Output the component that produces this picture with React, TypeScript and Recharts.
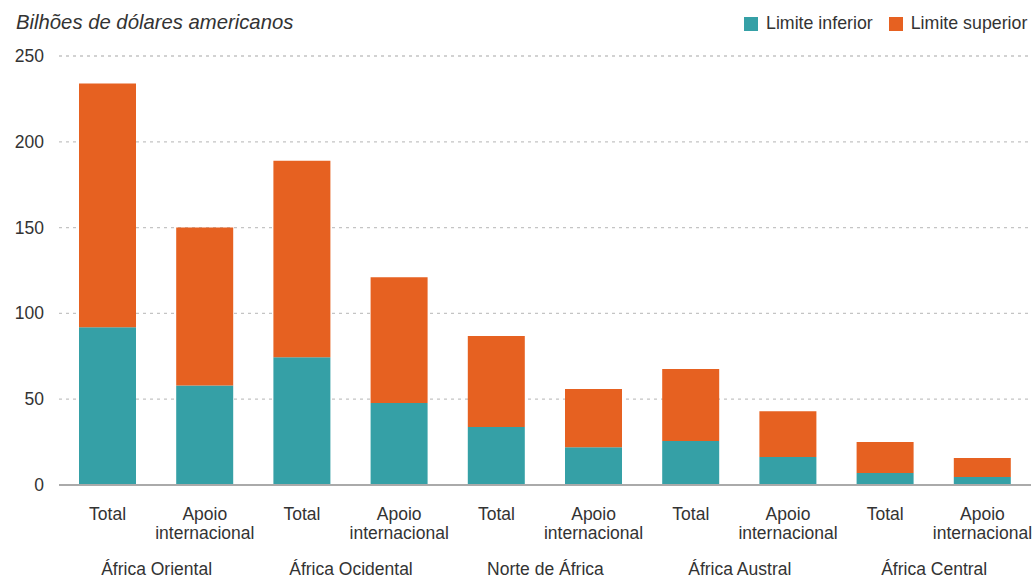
import React from "react";
import { BarChart, Bar, XAxis, YAxis, CartesianGrid } from "recharts";

const regions = ["África Oriental", "África Ocidental", "Norte de África", "África Austral", "África Central"];
const subLabels = ["Total", "Apoio internacional"];
const lowerLimit = [92, 58, 74.5, 47.8, 33.8, 22, 25.6, 16.3, 7, 4.7];
const upperLimit = [234, 150, 189, 121, 86.8, 56, 67.6, 43, 25, 15.7];
const yTicks = [0, 50, 100, 150, 200, 250];

const TEAL = "#35a0a6";
const ORANGE = "#e66121";
const TEXT = "#333333";
const FONT = "'Liberation Sans', Arial, Helvetica, sans-serif";

const data = lowerLimit.map((lo, i) => ({
  key: `c${i}`,
  region: regions[Math.floor(i / 2)],
  sub: subLabels[i % 2],
  lower: lo,
  upperSeg: upperLimit[i] - lo,
}));

const XTick = (props: any) => {
  const { x, y, payload } = props;
  const idx = payload.index;
  const d = data[idx];
  const lines = d.sub === "Total" ? ["Total"] : ["Apoio", "internacional"];
  return (
    <g>
      {lines.map((l, k) => (
        <text key={k} x={x} y={y + 27} dy={k * 19} textAnchor="middle" fill={TEXT} fontSize={17.5} fontFamily={FONT}>
          {l}
        </text>
      ))}
      {idx % 2 === 0 && (
        <text x={x + 49} y={y + 82} textAnchor="middle" fill={TEXT} fontSize={17.5} fontFamily={FONT}>
          {d.region}
        </text>
      )}
    </g>
  );
};

const YTick = (props: any) => {
  const { y, payload } = props;
  return (
    <text x={44} y={y + 6} textAnchor="end" fill={TEXT} fontSize={17.5} fontFamily={FONT}>
      {payload.value}
    </text>
  );
};

export default function App() {
  return (
    <div style={{ position: "absolute", left: 0, top: 0, width: 1033, height: 579, background: "#fff", fontFamily: FONT }}>
      <div style={{ position: "absolute", left: 16, top: 11, fontSize: 20.3, fontStyle: "italic", color: TEXT, whiteSpace: "nowrap" }}>
        Bilhões de dólares americanos
      </div>
      <div style={{ position: "absolute", left: 744, top: 13, display: "flex", alignItems: "center", fontSize: 17.8, color: TEXT, whiteSpace: "nowrap" }}>
        <span style={{ display: "inline-block", width: 14, height: 14, background: TEAL, marginRight: 8 }} />
        <span style={{ marginRight: 16 }}>Limite inferior</span>
        <span style={{ display: "inline-block", width: 14, height: 14, background: ORANGE, marginRight: 8 }} />
        <span>Limite superior</span>
      </div>
      <BarChart width={1033} height={579} data={data} margin={{ top: 56, right: 2, bottom: 0, left: 0 }} barSize={57}>
        <CartesianGrid vertical={false} stroke="#c4c4c4" strokeDasharray="3 4" strokeWidth={1.3} />
        <XAxis dataKey="key" interval={0} tickLine={false} axisLine={{ stroke: "#aaaaaa", strokeWidth: 2 }} tick={<XTick />} height={94} />
        <YAxis width={59} domain={[0, 250]} ticks={yTicks} axisLine={false} tickLine={false} tick={<YTick />} />
        <Bar dataKey="lower" stackId="a" fill={TEAL} isAnimationActive={false} />
        <Bar dataKey="upperSeg" stackId="a" fill={ORANGE} isAnimationActive={false} />
      </BarChart>
    </div>
  );
}
